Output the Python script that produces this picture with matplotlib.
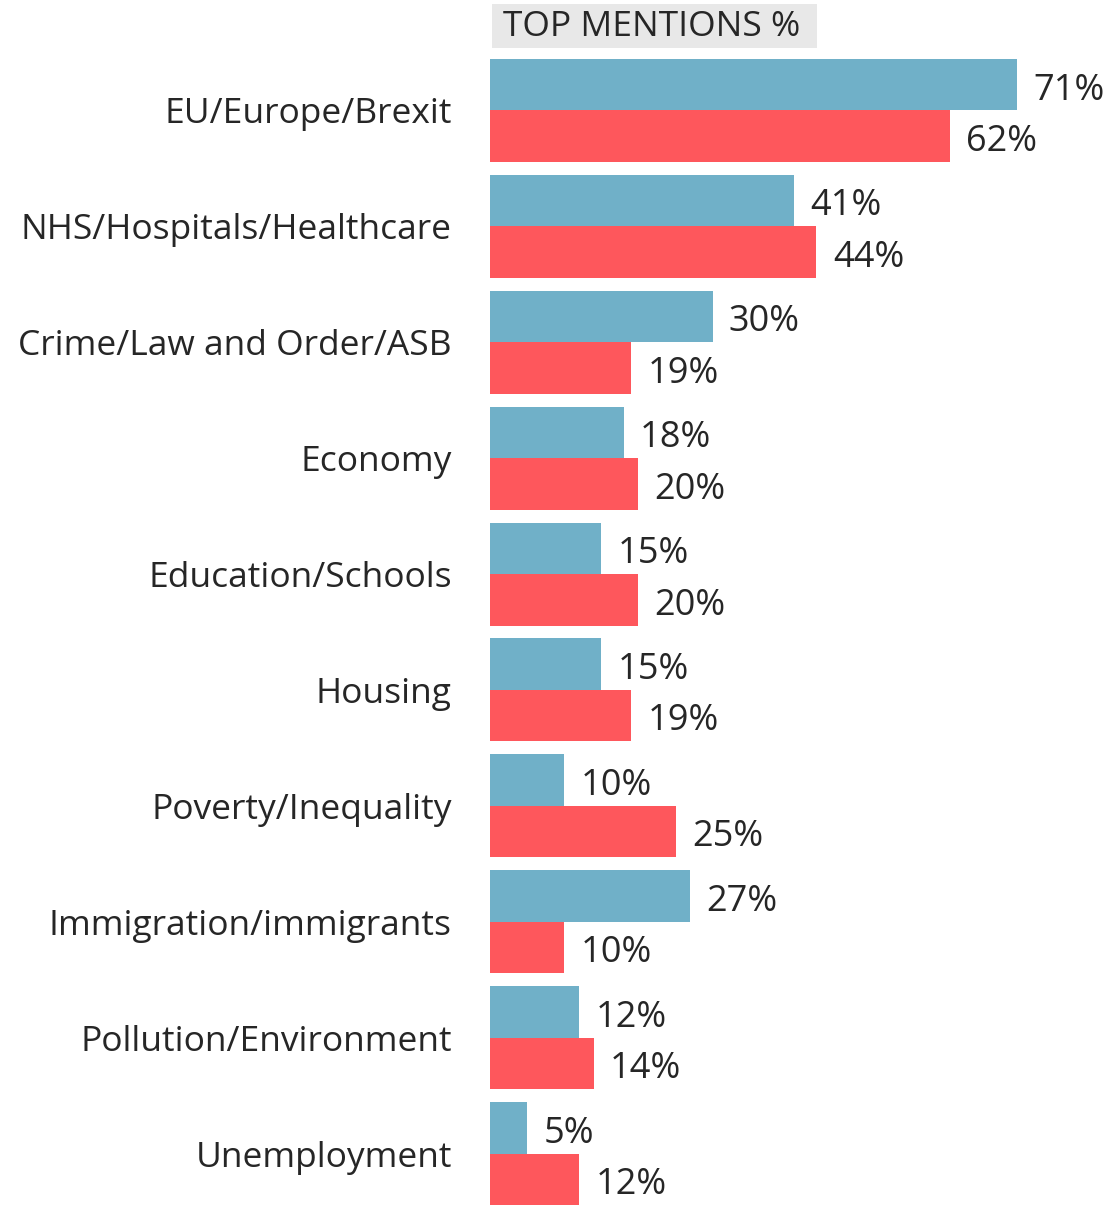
import numpy as np
import matplotlib.pyplot as plt
from matplotlib.patches import Rectangle

plt.rcParams['font.family'] = ['Open Sans', 'DejaVu Sans']

# DATOS
categories = ['EU/Europe/Brexit', 'NHS/Hospitals/Healthcare', 'Crime/Law and Order/ASB',
              'Economy', 'Education/Schools', 'Housing', 'Poverty/Inequality',
              'Immigration/immigrants', 'Pollution/Environment', 'Unemployment']
blue_vals = [71, 41, 30, 18, 15, 15, 10, 27, 12, 5]
red_vals = [62, 44, 19, 20, 20, 19, 25, 10, 14, 12]

BLUE = '#70b0c8'
RED = '#fe575c'
TXT = '#262626'

W, H = 1109, 1205
fig = plt.figure(figsize=(W / 100, H / 100), dpi=100)
ax = fig.add_axes([490 / W, 0, 619 / W, 1 - 59 / H])

y = np.arange(len(categories))
h = 0.444
ax.barh(y - h / 2, blue_vals, height=h, color=BLUE)
ax.barh(y + h / 2, red_vals, height=h, color=RED)

# etiquetas de valor
for i in range(len(categories)):
    ax.text(blue_vals[i] + 2.2, y[i] - h / 2 + 0.05, f'{blue_vals[i]}%', va='center', ha='left',
            fontsize=26, color=TXT)
    ax.text(red_vals[i] + 2.2, y[i] + h / 2 + 0.05, f'{red_vals[i]}%', va='center', ha='left',
            fontsize=26, color=TXT)

ax.set_xlim(0, 619 / 7.42)
ax.set_ylim(len(categories) - 1 + h, -h)
ax.set_yticks(y)
ax.set_yticklabels(categories, fontsize=25.5, color=TXT)
ax.tick_params(axis='y', length=0, pad=27.5)
ax.set_xticks([])
for s in ax.spines.values():
    s.set_visible(False)

# titulo con caja gris
fig.patches.append(Rectangle((492 / W, 1 - 48 / H), 325 / W, 44 / H, transform=fig.transFigure,
                             facecolor='#e8e8e8', edgecolor='none'))
fig.text(503 / W, 1 - 27 / H, 'TOP MENTIONS %', fontsize=25.5, color=TXT, va='center', ha='left')

fig.savefig('out.png', dpi=100)
plt.close('all')
